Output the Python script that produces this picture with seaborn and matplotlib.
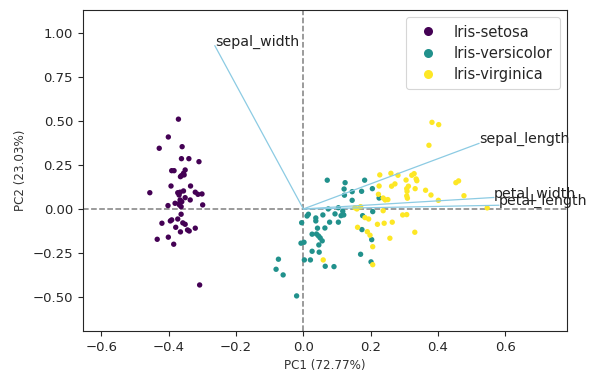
import matplotlib
matplotlib.use("Agg")
import matplotlib.pyplot as plt
from matplotlib.lines import Line2D
import seaborn as sns
import pandas as pd
import numpy as np

species = ["Iris-setosa", "Iris-versicolor", "Iris-virginica"]
colors = ["#440154", "#21918c", "#fde725"]

setosa_x = [-0.371, -0.401, -0.428, -0.360, -0.362, -0.340, -0.310, -0.391, -0.384, -0.351,
            -0.356, -0.362, -0.365, -0.393, -0.335, -0.456, -0.373, -0.366, -0.356, -0.321,
            -0.313, -0.301, -0.351, -0.366, -0.336, -0.381, -0.368, -0.402, -0.363, -0.299,
            -0.363, -0.373, -0.391, -0.395, -0.420, -0.358, -0.351, -0.379, -0.344, -0.339,
            -0.321, -0.365, -0.434, -0.401, -0.385, -0.308, -0.361, -0.369, -0.354, -0.368]
setosa_y = [0.509, 0.408, 0.344, 0.353, 0.285, 0.285, 0.268, 0.217, 0.217, 0.221,
            0.202, 0.189, 0.183, 0.130, 0.130, 0.092, 0.092, 0.095, 0.102, 0.095,
            0.083, 0.085, 0.064, 0.051, 0.051, 0.032, 0.032, 0.019, 0.013, 0.023,
            -0.030, -0.057, -0.062, -0.068, -0.081, -0.079, -0.087, -0.104, -0.119, -0.125,
            -0.109, -0.130, -0.172, -0.160, -0.200, -0.431, 0.041, 0.079, 0.193, 0.023]

versicolor_x = [0.071, 0.124, 0.182, 0.121, 0.145, 0.173, 0.205, 0.122, 0.145, 0.225,
                0.074, 0.104, 0.058, 0.015, 0.011, 0.037, 0.037, 0.094, 0.117, 0.112,
                0.120, 0.206, 0.176, -0.005, 0.078, 0.104, 0.042, 0.064, 0.026, 0.039,
                0.045, 0.050, 0.056, -0.007, 0.002, 0.046, 0.174, 0.203, 0.026, 0.047,
                0.170, -0.074, 0.003, 0.021, 0.201, -0.081, -0.060, 0.065, 0.091, -0.020]
versicolor_y = [0.163, 0.149, 0.163, 0.113, 0.098, 0.100, 0.115, 0.078, 0.049, 0.062,
                0.000, 0.007, -0.034, -0.030, -0.040, -0.051, -0.068, -0.028, -0.013, -0.038,
                -0.034, -0.015, -0.038, -0.078, -0.075, -0.075, -0.109, -0.108, -0.143, -0.142,
                -0.153, -0.164, -0.181, -0.194, -0.189, -0.204, -0.117, -0.174, -0.240, -0.245,
                -0.257, -0.285, -0.289, -0.289, -0.300, -0.342, -0.374, -0.325, -0.327, -0.493]

virginica_x = [0.159, 0.170, 0.183, 0.194, 0.220, 0.240, 0.161, 0.190, 0.198, 0.206,
               0.059, 0.206, 0.227, 0.225, 0.223, 0.237, 0.153, 0.382, 0.402, 0.373,
               0.260, 0.281, 0.322, 0.329, 0.335, 0.337, 0.305, 0.262, 0.312, 0.307,
               0.308, 0.332, 0.363, 0.453, 0.461, 0.379, 0.307, 0.309, 0.243, 0.251,
               0.401, 0.477, 0.546, 0.237, 0.295, 0.307, 0.264, 0.331, 0.257, 0.272]
virginica_y = [0.000, 0.013, -0.049, -0.057, -0.087, -0.081, -0.104, -0.129, -0.149, -0.214,
               -0.289, -0.316, 0.193, 0.130, 0.083, 0.062, 0.007, 0.491, 0.478, 0.361,
               0.202, 0.191, 0.191, 0.200, 0.170, 0.160, 0.164, 0.129, 0.129, 0.115,
               0.100, 0.115, 0.106, 0.149, 0.159, 0.079, 0.074, 0.061, 0.051, 0.053,
               0.049, 0.075, 0.006, -0.010, -0.034, -0.032, -0.075, -0.132, -0.166, 0.142]

features = ["sepal_length", "sepal_width", "petal_length", "petal_width"]
load_pc1 = [0.522, -0.263, 0.581, 0.566]
load_pc2 = [0.372, 0.926, 0.021, 0.065]

pc1_label = "PC1 (72.77%)"
pc2_label = "PC2 (23.03%)"

df = pd.DataFrame({
    "PC1": setosa_x + versicolor_x + virginica_x,
    "PC2": setosa_y + versicolor_y + virginica_y,
    "species": [species[0]] * len(setosa_x) + [species[1]] * len(versicolor_x)
               + [species[2]] * len(virginica_x),
})

sns.set_style("ticks")
plt.rcParams["font.family"] = ["DejaVu Sans"]

fig, ax = plt.subplots(figsize=(6, 3.84), dpi=100)
fig.subplots_adjust(left=0.138, right=0.945, bottom=0.138, top=0.974)

sns.scatterplot(data=df, x="PC1", y="PC2", hue="species", hue_order=species,
                palette=colors, s=15, linewidth=0, legend=False, ax=ax, zorder=2)

for name, lx, ly in zip(features, load_pc1, load_pc2):
    ax.plot([0, lx], [0, ly], color="#8ccbe3", lw=0.9, zorder=3)
    ax.text(lx, ly, name, fontsize=10.2, color="#222222", zorder=4)

ax.axhline(0, color="#808080", ls="--", lw=1.1, zorder=1)
ax.axvline(0, color="#808080", ls="--", lw=1.1, zorder=1)

ax.set_xlim(-0.655, 0.783)
ax.set_ylim(-0.692, 1.128)
ax.set_xticks([-0.6, -0.4, -0.2, 0.0, 0.2, 0.4, 0.6])
ax.set_yticks([-0.5, -0.25, 0.0, 0.25, 0.5, 0.75, 1.0])
ax.set_yticklabels(["−0.50", "−0.25", "0.00", "0.25", "0.50", "0.75", "1.00"])
ax.tick_params(labelsize=9.5, colors="#262626", length=3.5, width=0.8)
ax.set_xlabel(pc1_label, fontsize=8.6, color="#333333")
ax.set_ylabel(pc2_label, fontsize=8.6, color="#333333")
for sp in ax.spines.values():
    sp.set_visible(True)
    sp.set_color("#262626")
    sp.set_linewidth(0.8)

handles = [Line2D([0], [0], marker="o", ls="", markersize=6.5, markeredgewidth=0,
                  markerfacecolor=c) for c in colors]
leg = ax.legend(handles, species, loc="upper right", fontsize=10.5, frameon=True,
                handletextpad=0.75, borderpad=0.5, labelspacing=0.42)
leg.get_frame().set_edgecolor("#cccccc")
leg.get_frame().set_linewidth(0.8)

fig.savefig("out.png", dpi=100)
